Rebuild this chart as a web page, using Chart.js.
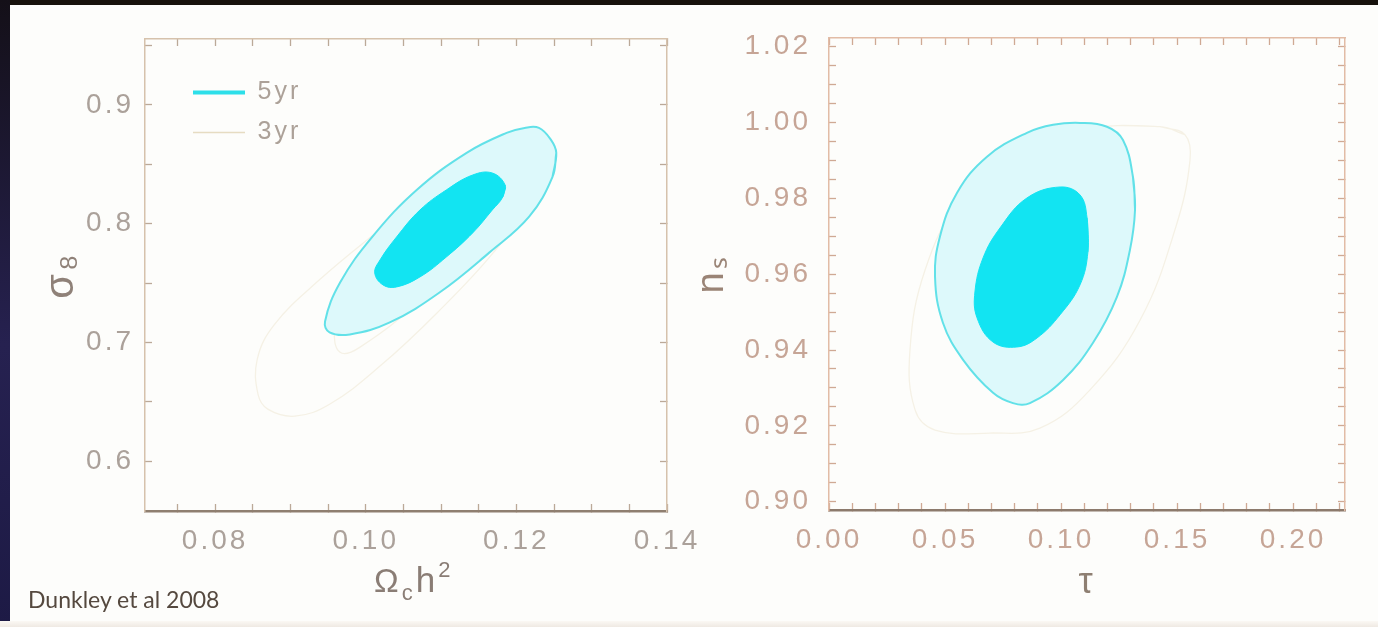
<!DOCTYPE html>
<html>
<head>
<meta charset="utf-8">
<script src="https://cdn.jsdelivr.net/npm/chart.js@4.4.0/dist/chart.umd.min.js"></script>
<style>
  html, body { margin: 0; padding: 0; }
  body { width: 1378px; height: 627px; position: relative; overflow: hidden; background: #fdfdfb; }
  .band-top { position: absolute; left: 0; top: 0; width: 1378px; height: 5px; background: #17120c; }
  .band-left { position: absolute; left: 0; top: 0; width: 10px; height: 627px; background: linear-gradient(to bottom, #141018, #262150 55%, #1d1a45); }
  .band-bottom { position: absolute; left: 0; bottom: 0; width: 1378px; height: 6px; background: linear-gradient(#fbf8f4, #efe9e3); }
  .panel { position: absolute; top: 0; height: 627px; }
  #leftPanel { left: 0; width: 720px; }
  #rightPanel { left: 690px; width: 688px; }
  .credit { position: absolute; left: 28px; top: 585px; font: 23px Lato, "Open Sans", sans-serif; color: #55493f; }
</style>
</head>
<body>
<div class="band-top"></div>
<div class="band-left"></div>
<div class="band-bottom"></div>
<div class="panel" id="leftPanel"><canvas id="sigmaChart"></canvas></div>
<div class="panel" id="rightPanel"><canvas id="nsChart"></canvas></div>
<div class="credit">Dunkley et al 2008</div>
<script>
// contours (sigma_8 vs Omega_c h^2)
const omch2In5 = [0.1185, 0.1182, 0.1168, 0.1142, 0.1107, 0.1072, 0.1041, 0.1023, 0.1012, 0.1019, 0.1041, 0.1072, 0.1107, 0.1142, 0.1168];
const sig8In5  = [0.8326, 0.8225, 0.8115, 0.7922, 0.7719, 0.7551, 0.7467, 0.7484, 0.7585, 0.7694, 0.7888, 0.8115, 0.8284, 0.8410, 0.8427];
const omch2Out5 = [0.1253, 0.1248, 0.1217, 0.1164, 0.1098, 0.1032, 0.0979, 0.0952, 0.0946, 0.0966, 0.1009, 0.1068, 0.1134, 0.1187, 0.1211, 0.1230, 0.1246];
const sig8Out5  = [0.8597, 0.8395, 0.8059, 0.7756, 0.7420, 0.7168, 0.7067, 0.7084, 0.7176, 0.7504, 0.7891, 0.8286, 0.8597, 0.8765, 0.8807, 0.8807, 0.8706];
const omch2In3 = [0.1160, 0.1171, 0.1138, 0.1072, 0.0992, 0.0966, 0.0959, 0.0979, 0.1045, 0.1125];
const sig8In3  = [0.8345, 0.8244, 0.7866, 0.7361, 0.6958, 0.6916, 0.7109, 0.7445, 0.7908, 0.8286];
const omch2Out3 = [0.1236, 0.1244, 0.1225, 0.1170, 0.1095, 0.1019, 0.0952, 0.0906, 0.0870, 0.0857, 0.0856, 0.0879, 0.0939, 0.1019, 0.1111, 0.1191];
const sig8Out3  = [0.8748, 0.8622, 0.8250, 0.7760, 0.7250, 0.6800, 0.6479, 0.6378, 0.6437, 0.6563, 0.6857, 0.7151, 0.7529, 0.7950, 0.8412, 0.8706];

// contours (n_s vs tau)
const tauIn5 = [0.1112, 0.1116, 0.1082, 0.0996, 0.0897, 0.0810, 0.0707, 0.0638, 0.0629, 0.0664, 0.0737, 0.0853, 0.0996, 0.1082];
const nsIn5  = [0.9749, 0.9659, 0.9572, 0.9493, 0.9432, 0.9408, 0.9421, 0.9485, 0.9553, 0.9643, 0.9722, 0.9801, 0.9830, 0.9809];
const tauOut5 = [0.1310, 0.1319, 0.1297, 0.1241, 0.1138, 0.1009, 0.0866, 0.0793, 0.0707, 0.0578, 0.0491, 0.0457, 0.0478, 0.0552, 0.0681, 0.0853, 0.0966, 0.1082, 0.1198, 0.1267];
const nsOut5  = [0.9857, 0.9770, 0.9664, 0.9540, 0.9419, 0.9321, 0.9260, 0.9260, 0.9287, 0.9374, 0.9472, 0.9593, 0.9699, 0.9815, 0.9910, 0.9973, 0.9994, 0.9999, 0.9989, 0.9954];
const tauIn3 = [0.0996, 0.1103, 0.1134, 0.1060, 0.0909, 0.0737, 0.0629, 0.0586, 0.0629, 0.0737, 0.0866];
const nsIn3  = [0.9822, 0.9796, 0.9664, 0.9506, 0.9387, 0.9347, 0.9387, 0.9506, 0.9638, 0.9730, 0.9796];
const tauOut3 = [0.1427, 0.1534, 0.1556, 0.1491, 0.1341, 0.1125, 0.0909, 0.0694, 0.0457, 0.0371, 0.0349, 0.0414, 0.0565, 0.0780, 0.1082];
const nsOut3  = [0.9989, 0.9968, 0.9901, 0.9717, 0.9479, 0.9295, 0.9194, 0.9181, 0.9189, 0.9242, 0.9400, 0.9611, 0.9796, 0.9915, 0.9981];

// tick marks and labelled ticks
const omTicks = [0.075, 0.08, 0.085, 0.09, 0.095, 0.10, 0.105, 0.11, 0.115, 0.12, 0.125, 0.13, 0.135, 0.14];
const omLabels = [0.08, 0.10, 0.12, 0.14];
const sigTicks = [0.6, 0.65, 0.7, 0.75, 0.8, 0.85, 0.9, 0.95];
const sigLabels = [0.6, 0.7, 0.8, 0.9];
const tauTicks = [0, 0.01, 0.02, 0.03, 0.04, 0.05, 0.06, 0.07, 0.08, 0.09, 0.10, 0.11, 0.12, 0.13, 0.14, 0.15, 0.16, 0.17, 0.18, 0.19, 0.20, 0.21, 0.22];
const tauLabels = [0, 0.05, 0.10, 0.15, 0.20];
const nsTicks = [0.900, 0.905, 0.910, 0.915, 0.920, 0.925, 0.930, 0.935, 0.940, 0.945, 0.950, 0.955, 0.960, 0.965, 0.970, 0.975, 0.980, 0.985, 0.990, 0.995, 1.000, 1.005, 1.010, 1.015, 1.020];
const nsLabels = [0.90, 0.92, 0.94, 0.96, 0.98, 1.00, 1.02];

const seriesNames = ['5yr', '3yr'];

const CYAN = '#12e4f2';
const CYAN_LIGHT = '#ddf9fb';
const CYAN_EDGE = '#62e1e8';
const PALE = '#f5f1e5';
const tickFont = { family: '"Liberation Sans", Arial, sans-serif', size: 28 };

// closed loop from two arrays; the first two points are repeated so the
// smoothed curve goes round the join without a corner
function loop(xs, ys) {
  const pts = xs.map((x, i) => ({ x: x, y: ys[i] }));
  pts.push(pts[0], pts[1]);
  return pts;
}

function contourSets(in5, out5, in3, out3) {
  const base = { showLine: true, pointRadius: 0, pointHoverRadius: 0, tension: 0.4, borderJoinStyle: 'round' };
  // first dataset is drawn last (on top)
  return [
    Object.assign({ label: seriesNames[0] + ' 68%', data: in5, fill: 'shape', backgroundColor: CYAN, borderColor: CYAN, borderWidth: 1 }, base),
    Object.assign({ label: seriesNames[0] + ' 95%', data: out5, fill: 'shape', backgroundColor: CYAN_LIGHT, borderColor: CYAN_EDGE, borderWidth: 2 }, base),
    Object.assign({ label: seriesNames[1] + ' 68%', data: in3, fill: false, borderColor: PALE, borderWidth: 1.3 }, base),
    Object.assign({ label: seriesNames[1] + ' 95%', data: out3, fill: false, borderColor: PALE, borderWidth: 1.3 }, base)
  ];
}

function useTicks(list) {
  return (axis) => { axis.ticks = list.map(v => ({ value: v })); };
}
function showOnly(list, digits) {
  return (v) => list.some(l => Math.abs(l - v) < 1e-9) ? v.toFixed(digits) : '';
}
function fixSize(prop, size) {
  return (axis) => {
    axis[prop] = size;
    axis.paddingLeft = 0; axis.paddingRight = 0; axis.paddingTop = 0; axis.paddingBottom = 0;
  };
}

// two labelled axes plus a top/right pair to close the frame, ticks pointing inwards
function frameScales(s) {
  const grid = { display: true, drawOnChartArea: false, drawTicks: true, tickLength: -7, tickColor: s.tickColor, tickWidth: 1.3 };
  return {
    x: {
      type: 'linear', position: 'bottom', min: s.xMin, max: s.xMax,
      afterBuildTicks: useTicks(s.xTicks), afterFit: fixSize('height', s.xHeight),
      grid: grid, border: { display: true, color: s.bottomColor, width: 2.5 },
      ticks: { autoSkip: false, maxRotation: 0, padding: 20, color: s.labelColor, font: tickFont, callback: showOnly(s.xLabels, 2) },
      title: s.xTitle
    },
    x2: {
      type: 'linear', position: 'top', min: s.xMin, max: s.xMax,
      afterBuildTicks: useTicks(s.xTicks), afterFit: fixSize('height', 8),
      grid: grid, border: { display: true, color: s.frameColor, width: 1.5 },
      ticks: { display: false }
    },
    y: {
      type: 'linear', position: 'left', min: s.yMin, max: s.yMax,
      afterBuildTicks: useTicks(s.yTicks), afterFit: fixSize('width', s.yWidth),
      grid: grid, border: { display: true, color: s.frameColor, width: 1.5 },
      ticks: { autoSkip: false, padding: s.yPad, color: s.labelColor, font: tickFont, callback: showOnly(s.yLabels, s.yDigits) },
      title: s.yTitle
    },
    y2: {
      type: 'linear', position: 'right', min: s.yMin, max: s.yMax,
      afterBuildTicks: useTicks(s.yTicks), afterFit: fixSize('width', 8),
      grid: grid, border: { display: true, color: s.frameColor, width: 1.5 },
      ticks: { display: false }
    }
  };
}

const spacedText = {
  id: 'spacedText',
  beforeDraw(chart) { chart.ctx.letterSpacing = '3px'; }
};

// legend sits inside the plot, near the top left corner
const legendSpot = {
  id: 'legendSpot',
  afterLayout(chart) {
    const lg = chart.legend, a = chart.chartArea;
    if (!lg) return;
    const w = lg.width, h = lg.height;
    lg.left = a.left + 33; lg.top = a.top + 26;
    lg.right = lg.left + w; lg.bottom = lg.top + h;
  }
};

// Omega_c h^2 needs a subscript and a superscript
const omegaTitle = {
  id: 'omegaTitle',
  afterDraw(chart) {
    const ctx = chart.ctx, sx = chart.scales.x;
    let x = sx.left + 229;
    const base = 592;
    const parts = [['\u03A9', 33, 0], ['c', 22, 8], ['h', 35, 0], ['2', 22, -15]];
    ctx.save();
    ctx.letterSpacing = '0px';
    ctx.fillStyle = '#8a7d75';
    ctx.textAlign = 'left';
    ctx.textBaseline = 'alphabetic';
    for (const [t, size, dy] of parts) {
      ctx.font = size + 'px "Liberation Sans", Arial, sans-serif';
      ctx.fillText(t, x, base + dy);
      x += ctx.measureText(t).width + 3;
    }
    ctx.restore();
  }
};

Chart.defaults.animation = false;

new Chart(document.getElementById('sigmaChart'), {
  type: 'scatter',
  data: {
    datasets: contourSets(loop(omch2In5, sig8In5), loop(omch2Out5, sig8Out5), loop(omch2In3, sig8In3), loop(omch2Out3, sig8Out3))
  },
  options: {
    responsive: true,
    maintainAspectRatio: false,
    devicePixelRatio: 1,
    layout: { padding: { left: 38, top: 31, right: 45, bottom: 36 } },
    scales: frameScales({
      xMin: 0.0707, xMax: 0.14, xTicks: omTicks, xLabels: omLabels, xHeight: 80,
      yMin: 0.5579, yMax: 0.9556, yTicks: sigTicks, yLabels: sigLabels, yDigits: 1, yWidth: 107, yPad: 18,
      tickColor: '#bba998', bottomColor: '#8f7f70', frameColor: '#d6c2ac', labelColor: '#aba19a',
      xTitle: { display: false },
      yTitle: { display: true, text: '\u03C3\u2088', color: '#8f8178', padding: 0, font: { family: '"Liberation Sans", Arial, sans-serif', size: 40 } }
    }),
    plugins: {
      legend: {
        display: true,
        position: 'chartArea',
        align: 'start',
        labels: {
          usePointStyle: true,
          pointStyleWidth: 52,
          padding: 15,
          color: '#aaa096',
          font: { family: '"Liberation Sans", Arial, sans-serif', size: 25 },
          generateLabels: () => [
            { text: seriesNames[0], fontColor: '#aca198', pointStyle: 'line', strokeStyle: '#2ddfe9', fillStyle: '#2ddfe9', lineWidth: 4, hidden: false, datasetIndex: 0 },
            { text: seriesNames[1], fontColor: '#aca198', pointStyle: 'line', strokeStyle: '#e6dcc2', fillStyle: '#e6dcc2', lineWidth: 1.5, hidden: false, datasetIndex: 2 }
          ]
        }
      },
      tooltip: { enabled: false }
    }
  },
  plugins: [spacedText, legendSpot, omegaTitle]
});

new Chart(document.getElementById('nsChart'), {
  type: 'scatter',
  data: {
    datasets: contourSets(loop(tauIn5, nsIn5), loop(tauOut5, nsOut5), loop(tauIn3, nsIn3), loop(tauOut3, nsOut3))
  },
  options: {
    responsive: true,
    maintainAspectRatio: false,
    devicePixelRatio: 1,
    layout: { padding: { left: 0, top: 30, right: 25, bottom: 22 } },
    scales: frameScales({
      xMin: 0, xMax: 0.2224, xTicks: tauTicks, xLabels: tauLabels, xHeight: 95,
      yMin: 0.8978, yMax: 1.0223, yTicks: nsTicks, yLabels: nsLabels, yDigits: 2, yWidth: 139, yPad: 25,
      tickColor: '#cfa994', bottomColor: '#8c7a6c', frameColor: '#e2bca6', labelColor: '#c6a596',
      xTitle: { display: true, text: '\u03C4', color: '#8e7f72', padding: 0, font: { family: '"Liberation Sans", Arial, sans-serif', size: 36 } },
      yTitle: { display: true, text: 'n\u209B', color: '#9a8476', padding: 0, font: { family: '"Liberation Sans", Arial, sans-serif', size: 38 } }
    }),
    plugins: {
      legend: { display: false },
      tooltip: { enabled: false }
    }
  },
  plugins: [spacedText]
});
</script>
</body>
</html>
